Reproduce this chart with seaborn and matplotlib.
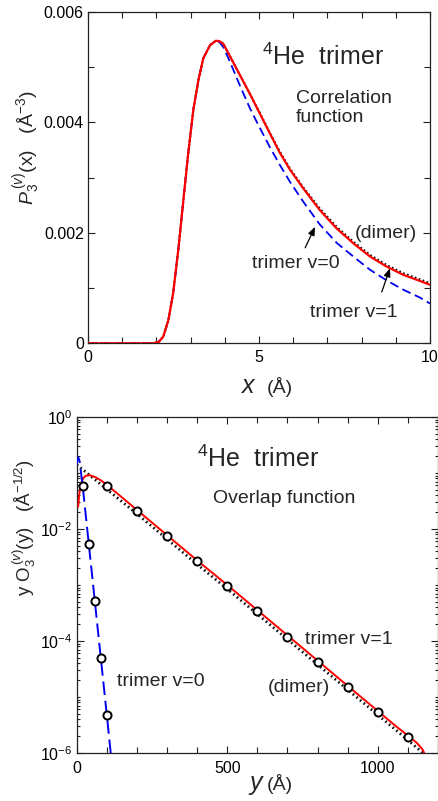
import numpy as np
import matplotlib
matplotlib.use("Agg")
import matplotlib.pyplot as plt
from matplotlib.ticker import FixedLocator, MultipleLocator, LogLocator, NullFormatter, LogFormatterSciNotation
import seaborn as sns

# ---------------- correlation function P3(x)  (values in 1e-3 Å^-3) ----------------
x_corr = [0.0, 1.9, 2.06, 2.2, 2.35, 2.49, 2.64, 2.79, 2.93, 3.08, 3.23, 3.37, 3.57,
          3.74, 3.85, 3.96, 4.15, 4.44, 4.74, 5.0, 5.32, 5.6, 5.91, 6.3, 6.78, 7.27,
          7.76, 8.25, 8.73, 9.22, 9.7, 10.0]
p_trimer_v1 = [0, 0, 0.02, 0.12, 0.42, 0.91, 1.69, 2.60, 3.44, 4.23, 4.77, 5.16, 5.40,
               5.48, 5.47, 5.42, 5.20, 4.86, 4.51, 4.19, 3.80, 3.46, 3.14, 2.80, 2.41,
               2.08, 1.81, 1.57, 1.39, 1.24, 1.13, 1.06]
p_trimer_v0 = [0, 0, 0.02, 0.12, 0.42, 0.91, 1.69, 2.60, 3.44, 4.23, 4.77, 5.16, 5.40,
               5.48, 5.45, 5.36, 5.10, 4.67, 4.25, 3.93, 3.55, 3.24, 2.92, 2.56, 2.15,
               1.82, 1.57, 1.33, 1.14, 0.97, 0.83, 0.72]
p_dimer = [0, 0, 0.02, 0.12, 0.42, 0.91, 1.69, 2.60, 3.44, 4.23, 4.77, 5.16, 5.40,
           5.48, 5.47, 5.42, 5.20, 4.86, 4.51, 4.20, 3.81, 3.48, 3.16, 2.82, 2.44,
           2.11, 1.84, 1.60, 1.42, 1.27, 1.16, 1.09]
P_UNIT = 1e-3

# ---------------- overlap function y*O3(y)  (Å^-1/2) ----------------
y_v1 = [5, 8, 11, 16, 22, 30, 44, 60, 80, 100, 200, 300, 400, 500, 600, 700, 800,
        900, 1000, 1060, 1100, 1130, 1148, 1160]
o_v1 = [0.0251, 0.0398, 0.0525, 0.069, 0.0813, 0.0891, 0.0912, 0.0851, 0.0741,
        0.0617, 0.0219, 0.00776, 0.00275, 1.0e-3, 3.55e-4, 1.26e-4, 4.47e-5,
        1.58e-5, 5.62e-6, 3.02e-6, 2.04e-6, 1.51e-6, 1.17e-6, 8.7e-7]

y_v0 = [0.5, 3, 7, 10, 20, 40, 60, 80, 100, 115]
o_v0 = [0.141, 0.19, 0.182, 0.158, 0.0575, 0.0055, 5.25e-4, 5.0e-5, 4.79e-6, 7.9e-7]

y_dimer = [0, 100, 200, 300, 400, 500, 600, 700, 800, 900, 1000, 1100, 1150, 1165]
o_dimer = [0.141, 0.0513, 0.0186, 0.00661, 0.00234, 8.51e-4, 3.02e-4, 1.07e-4,
           3.80e-5, 1.35e-5, 4.79e-6, 1.70e-6, 1.0e-6, 8.5e-7]

y_pts_v1 = [100, 200, 300, 400, 500, 600, 700, 800, 900, 1000, 1100]
o_pts_v1 = [0.0575, 0.0209, 0.00741, 0.00263, 9.55e-4, 3.39e-4, 1.20e-4, 4.27e-5,
            1.51e-5, 5.37e-6, 1.95e-6]
y_pts_v0 = [20, 40, 60, 80, 100]
o_pts_v0 = [0.0575, 0.0055, 5.25e-4, 5.0e-5, 4.79e-6]

top_yticks = [0, 0.002, 0.004, 0.006]
top_yticklabels = ["0", "0.002", "0.004", "0.006"]
top_xticks = [0, 5, 10]
bot_xticks = [0, 500, 1000]
bot_yticks = [1e-6, 1e-4, 1e-2, 1e0]

sns.set_style("ticks")
plt.rcParams["font.family"] = ["Liberation Sans", "DejaVu Sans"]
plt.rcParams["mathtext.fontset"] = "custom"
plt.rcParams["mathtext.rm"] = "Liberation Sans"
plt.rcParams["mathtext.it"] = "Liberation Sans:italic"
plt.rcParams["mathtext.bf"] = "Liberation Sans:bold"
plt.rcParams["axes.linewidth"] = 0.9
plt.rcParams["axes.edgecolor"] = "#222222"

RED = "#ff0000"
BLUE = "#0000ee"
INK = "#111111"

fig = plt.figure(figsize=(4.39, 8.01), dpi=100)
ax1 = fig.add_axes([88 / 439, 1 - 343.3 / 801, 342 / 439, 331.3 / 801])
ax2 = fig.add_axes([76.7 / 439, 1 - 753 / 801, 361.3 / 439, 336 / 801])

# ---------------- top panel ----------------
xc = np.array(x_corr)
sns.lineplot(x=xc, y=np.array(p_trimer_v0) * P_UNIT, ax=ax1, color=BLUE, lw=1.3,
             linestyle=(0, (5, 2.6)), estimator=None, sort=False, zorder=2)
sns.lineplot(x=xc, y=np.array(p_dimer) * P_UNIT, ax=ax1, color=INK, lw=1.5,
             linestyle=(0, (0.8, 1.2)), estimator=None, sort=False, zorder=3)
sns.lineplot(x=xc, y=np.array(p_trimer_v1) * P_UNIT, ax=ax1, color=RED, lw=1.6,
             estimator=None, sort=False, zorder=4)

ax1.set_xlim(0, 10)
ax1.set_ylim(0, 0.006)
ax1.xaxis.set_major_locator(FixedLocator(top_xticks))
ax1.set_xticklabels([str(t) for t in top_xticks])
ax1.xaxis.set_minor_locator(MultipleLocator(1))
ax1.yaxis.set_major_locator(FixedLocator(top_yticks))
ax1.set_yticklabels(top_yticklabels)
ax1.yaxis.set_minor_locator(MultipleLocator(0.001))

ax1.set_xlabel("")
ax1.set_ylabel(r"$P_3^{\,(v)}$(x)   (Å$^{-3}$)", fontsize=14, va="center",
               rotation=90)
ax1.yaxis.set_label_coords(-0.178, 0.59)
ax1.text(0.469, -0.150, r"$x$", transform=ax1.transAxes, fontsize=18,
         ha="center", va="baseline")
ax1.text(0.561, -0.150, "(Å)", transform=ax1.transAxes, fontsize=14,
         ha="center", va="baseline")

ax1.text(0.509, 0.840, r"$^{4}$He  trimer", transform=ax1.transAxes, fontsize=18,
         ha="left", va="baseline")
ax1.text(0.608, 0.725, "Correlation", transform=ax1.transAxes, fontsize=14,
         ha="left", va="baseline")
ax1.text(0.608, 0.668, "function", transform=ax1.transAxes, fontsize=14,
         ha="left", va="baseline")
ax1.text(0.781, 0.318, "(dimer)", transform=ax1.transAxes, fontsize=14,
         ha="left", va="baseline")
ax1.text(0.480, 0.227, "trimer v=0", transform=ax1.transAxes, fontsize=14,
         ha="left", va="baseline")
ax1.text(0.649, 0.080, "trimer v=1", transform=ax1.transAxes, fontsize=14,
         ha="left", va="baseline")
arrow = dict(arrowstyle="-|>,head_length=0.5,head_width=0.2", color="black", lw=0.9,
             shrinkA=0, shrinkB=0)
ax1.annotate("", xy=(6.64, 0.00211), xytext=(6.35, 0.00173), arrowprops=arrow)
ax1.annotate("", xy=(8.83, 0.00136), xytext=(8.59, 0.00093), arrowprops=arrow)

# ---------------- bottom panel ----------------
sns.lineplot(x=y_dimer, y=o_dimer, ax=ax2, color=INK, lw=2.0,
             linestyle=(0, (0.6, 1.1)), estimator=None, sort=False, zorder=2)
sns.lineplot(x=y_v1, y=o_v1, ax=ax2, color=RED, lw=1.4,
             estimator=None, sort=False, zorder=3)
sns.lineplot(x=y_v0, y=o_v0, ax=ax2, color=BLUE, lw=1.4,
             linestyle=(0, (7, 3)), estimator=None, sort=False, zorder=3)
sns.scatterplot(x=y_pts_v1, y=o_pts_v1, ax=ax2, s=34, color="white",
                edgecolor="black", linewidth=1.4, zorder=5)
sns.scatterplot(x=y_pts_v0, y=o_pts_v0, ax=ax2, s=34, color="white",
                edgecolor="black", linewidth=1.4, zorder=5)

ax2.set_yscale("log")
ax2.set_xlim(0, 1200)
ax2.set_ylim(1e-6, 1e0)
ax2.xaxis.set_major_locator(FixedLocator(bot_xticks))
ax2.set_xticklabels([str(t) for t in bot_xticks])
ax2.xaxis.set_minor_locator(MultipleLocator(100))
ax2.yaxis.set_major_locator(FixedLocator(bot_yticks))
ax2.yaxis.set_major_formatter(LogFormatterSciNotation())
ax2.yaxis.set_minor_locator(LogLocator(base=10, subs=np.arange(1, 10), numticks=60))
ax2.yaxis.set_minor_formatter(NullFormatter())

ax2.set_xlabel("")
ax2.set_ylabel(r"y O$_3^{\,(v)}$(y)   (Å$^{-1/2}$)", fontsize=13.5, va="center",
               rotation=90)
ax2.yaxis.set_label_coords(-0.145, 0.67)
ax2.text(0.498, -0.110, r"$y$", transform=ax2.transAxes, fontsize=18,
         ha="center", va="baseline")
ax2.text(0.563, -0.110, "(Å)", transform=ax2.transAxes, fontsize=14,
         ha="center", va="baseline")

ax2.text(0.332, 0.852, r"$^{4}$He  trimer", transform=ax2.transAxes, fontsize=18,
         ha="left", va="baseline")
ax2.text(0.378, 0.744, "Overlap function", transform=ax2.transAxes, fontsize=14,
         ha="left", va="baseline")
ax2.text(0.632, 0.324, "trimer v=1", transform=ax2.transAxes, fontsize=14,
         ha="left", va="baseline")
ax2.text(0.530, 0.182, "(dimer)", transform=ax2.transAxes, fontsize=14,
         ha="left", va="baseline")
ax2.text(0.111, 0.199, "trimer v=0", transform=ax2.transAxes, fontsize=14,
         ha="left", va="baseline")

for ax in (ax1, ax2):
    ax.tick_params(which="both", direction="in", top=True, right=True,
                   labelsize=11.5, colors="#222222", labelcolor="black")
    ax.tick_params(which="major", length=5, width=0.8)
    ax.tick_params(which="minor", length=4, width=0.8)
    ax.tick_params(axis="x", pad=5)
    ax.tick_params(axis="y", pad=3)
    for s in ax.spines.values():
        s.set_visible(True)
ax2.tick_params(axis="y", which="minor", length=2.5)
ax2.tick_params(axis="x", pad=6)

fig.savefig("out.png", dpi=100, facecolor="white")
